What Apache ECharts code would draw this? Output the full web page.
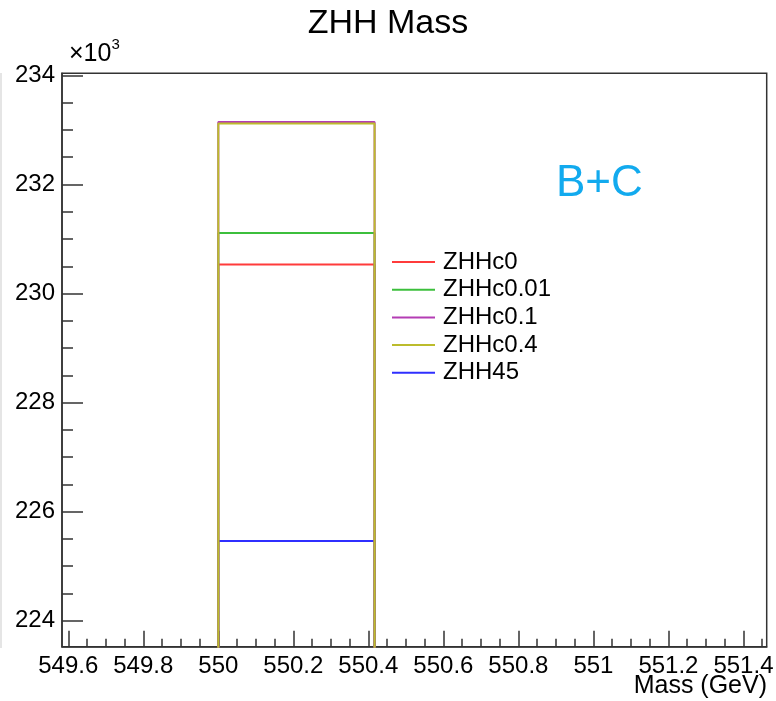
<!DOCTYPE html>
<html>
<head>
<meta charset="utf-8">
<title>ZHH Mass</title>
<script src="https://cdn.jsdelivr.net/npm/echarts@6/dist/echarts.min.js"></script>
<style>
  html, body { margin: 0; padding: 0; background: #fff; }
  #chart { width: 776px; height: 701px; }
</style>
</head>
<body>
<div id="chart"></div>
<script>
// Histogram bin that holds the entries (GeV): low edge, high edge
const binEdges = [550, 550.41667];
// Baseline of the histogram outline
const baseline = 0;
// Sample names and the content of the filled bin
const sampleNames = ['ZHHc0', 'ZHHc0.01', 'ZHHc0.1', 'ZHHc0.4', 'ZHH45'];
const binContents = [230530, 231110, 233145, 233120, 225460];
const sampleColors = ['#ff3b3b', '#3cbf3c', '#b43cb4', '#bcbc2c', '#2f2fff'];
// Axis tick labels
const xTickLabels = ['549.6', '549.8', '550', '550.2', '550.4', '550.6', '550.8', '551', '551.2', '551.4'];
const yTickLabels = ['224', '226', '228', '230', '232', '234'];
const yScale = 1000;

const FONT = '"Liberation Sans", Arial, Helvetica, sans-serif';
const xMin = 549.5833, xMax = 551.462;
const yMin = 223520, yMax = 234040;

const xMajor = xTickLabels.map(Number);
const xMinor = [];
for (let k = 0; k <= 37; k++) xMinor.push(+(549.6 + k * 0.05).toFixed(2));
const yMajor = yTickLabels.map(s => Number(s) * yScale);
const yMinor = [];
for (let k = 0; k <= 20; k++) yMinor.push(224000 + k * 500);

// Outline of each histogram: up the low edge, across the bin, down the high edge
function outline(v) {
  return [[binEdges[0], baseline], [binEdges[0], v], [binEdges[1], v], [binEdges[1], baseline]];
}

// Draw order: ZHH45 first, ZHHc0.4 last (on top)
const drawOrder = [4, 0, 1, 2, 3];
const series = drawOrder.map(i => ({
  name: sampleNames[i],
  type: 'line',
  xAxisIndex: 0,
  yAxisIndex: 0,
  data: outline(binContents[i]),
  showSymbol: false,
  symbol: 'none',
  clip: true,
  animation: false,
  lineStyle: { color: sampleColors[i], width: 2 },
  itemStyle: { color: sampleColors[i] }
}));

const axisColor = '#333333';
const chart = echarts.init(document.getElementById('chart'), null, { renderer: 'canvas' });
chart.setOption({
  animation: false,
  backgroundColor: '#ffffff',
  title: {
    text: 'ZHH Mass',
    left: 'center',
    top: 2,
    textStyle: { fontFamily: FONT, fontSize: 34, fontWeight: 'normal', color: '#000' }
  },
  grid: {
    left: 62, right: 9.3, top: 73.3, bottom: 54.3,
    containLabel: false,
    outerBoundsMode: 'none',
    show: true, borderColor: axisColor, borderWidth: 1.5, backgroundColor: 'transparent'
  },
  legend: {
    orient: 'vertical',
    left: 392,
    top: 250,
    padding: 0,
    data: sampleNames.map(n => ({ name: n, icon: 'rect' })),
    itemWidth: 43,
    itemHeight: 2,
    itemGap: 3.7,
    itemStyle: { borderWidth: 0 },
    textStyle: { fontFamily: FONT, fontSize: 24, color: '#000', lineHeight: 24, padding: [0, 0, 0, 3] },
    selectedMode: false
  },
  xAxis: [
    {
      type: 'value', position: 'bottom', min: xMin, max: xMax,
      splitLine: { show: false },
      axisLine: { show: true, lineStyle: { color: axisColor, width: 1.5 } },
      axisTick: { show: true, inside: true, length: 16, customValues: xMajor, lineStyle: { color: axisColor, width: 1.5 } },
      axisLabel: {
        show: true, customValues: xMajor, margin: 8, hideOverlap: false,
        fontFamily: FONT, fontSize: 24, color: '#000',
        formatter: v => String(+Number(v).toFixed(1))
      }
    },
    {
      type: 'value', position: 'bottom', min: xMin, max: xMax,
      splitLine: { show: false },
      axisLine: { show: false },
      axisLabel: { show: false },
      axisTick: { show: true, inside: true, length: 8, customValues: xMinor, lineStyle: { color: axisColor, width: 1.5 } }
    }
  ],
  yAxis: [
    {
      type: 'value', position: 'left', min: yMin, max: yMax,
      splitLine: { show: false },
      axisLine: { show: true, lineStyle: { color: axisColor, width: 1.5 } },
      axisTick: { show: true, inside: true, length: 21, customValues: yMajor, lineStyle: { color: axisColor, width: 1.5 } },
      axisLabel: {
        show: true, customValues: yMajor, margin: 7,
        fontFamily: FONT, fontSize: 24, color: '#000',
        formatter: v => String(Math.round(v / yScale))
      }
    },
    {
      type: 'value', position: 'left', min: yMin, max: yMax,
      splitLine: { show: false },
      axisLine: { show: false },
      axisLabel: { show: false },
      axisTick: { show: true, inside: true, length: 11, customValues: yMinor, lineStyle: { color: axisColor, width: 1.5 } }
    }
  ],
  graphic: [
    {
      type: 'text', left: 69, top: 37,
      style: {
        text: '{b|×10}{s|3}',
        rich: {
          b: { fontFamily: FONT, fontSize: 25, fill: '#000', verticalAlign: 'bottom', lineHeight: 30 },
          s: { fontFamily: FONT, fontSize: 15, fill: '#000', verticalAlign: 'top', lineHeight: 30, padding: [0, 0, 12, 0] }
        }
      }
    },
    {
      type: 'text', left: 556, top: 162,
      style: { text: 'B+C', fontFamily: FONT, fontSize: 44, fill: '#12aaee' }
    },
    {
      type: 'text', x: 767, y: 686,
      style: { text: 'Mass (GeV)', fontFamily: FONT, fontSize: 25, fill: '#000', align: 'right', verticalAlign: 'middle' }
    },
    {
      type: 'line', shape: { x1: 1, y1: 73, x2: 1, y2: 648 },
      style: { stroke: '#dcdcdc', lineWidth: 1.5 }
    }
  ],
  series: series
});
</script>
</body>
</html>
